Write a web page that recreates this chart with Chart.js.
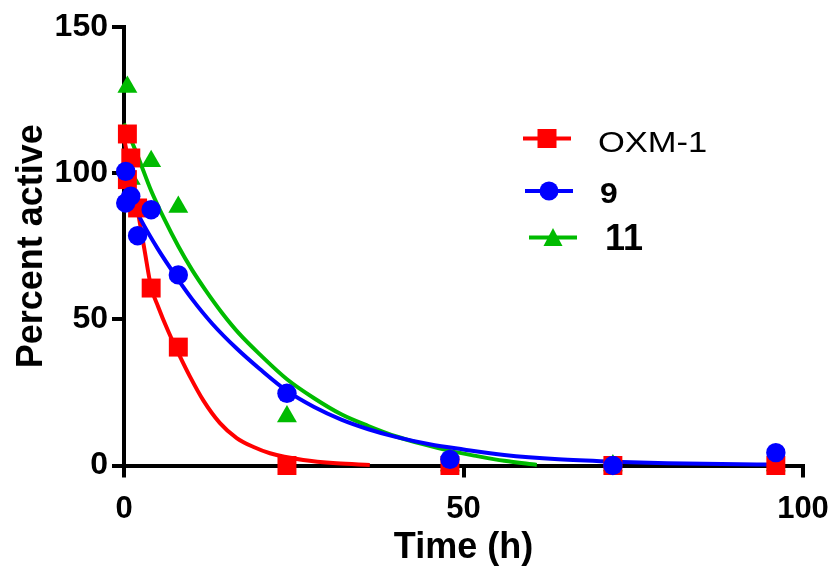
<!DOCTYPE html>
<html lang="en">
<head>
    <meta charset="UTF-8">
    <title>Percent active vs time</title>
    <script src="https://cdn.jsdelivr.net/npm/chart.js"></script>
    <style>
        body {
            margin: 0;
            background: #fff;
        }
        .chart-box {
            width: 836px;
            height: 571px;
        }
    </style>
</head>
<body>
    <div class="chart-box">
        <canvas id="decayChart"></canvas>
    </div>

    <script>
        const oxmTime = [0.5, 0.5, 1, 2, 4, 8, 24, 48, 72, 96];
        const oxmActive = [113.4, 97.8, 105.2, 88.1, 60.7, 40.5, 0, 0, 0, 0];

        const cpd9Time = [0.25, 0.25, 1, 2, 4, 8, 24, 48, 72, 96];
        const cpd9Active = [100.6, 89.8, 92.1, 78.6, 87.5, 65.2, 24.7, 2.1, 0, 4.4];

        const cpd11Time = [0.5, 1, 4, 8, 24, 48, 72, 96];
        const cpd11Active = [129.5, 98, 104.1, 88.4, 16.8, 0, 0, 0];

        // Fitted curves
        const oxmFitTime = [0, 1, 2, 3, 4, 5, 6.5, 8.2, 9.7, 11.7, 14.1, 16.6, 19, 21.5, 26.4, 31.3, 36.2];
        const oxmFitActive = [112, 100, 87.5, 74, 61, 54.5, 46, 37.5, 30.5, 22.2, 14.6, 9.4, 6.4, 4.2, 1.9, 0.75, 0.2];

        const cpd9FitTime = [0, 2.5, 5, 8, 10, 13, 16.6, 20, 24, 28, 32, 36, 40, 45, 50, 56, 64, 72, 80, 88, 96];
        const cpd9FitActive = [96, 84, 74, 63.5, 57, 48.5, 40, 33, 25.5, 20, 15.7, 12.4, 9.8, 7.3, 5.5, 3.6, 2.1, 1.3, 0.8, 0.5, 0.3];

        const cpd11FitTime = [0, 2, 4, 6, 8, 10, 12, 14.5, 17, 20, 24, 28, 32, 36, 40, 44, 48, 52, 56, 60.8];
        const cpd11FitActive = [117, 106, 94, 84, 75, 67, 60, 52, 45, 38, 29.5, 23, 17.5, 13.5, 10, 7.3, 5, 3.2, 1.6, 0.2];

        const seriesNames = ['OXM-1', '9', '11'];
        const xTicks = [0, 50, 100];
        const yTicks = [0, 50, 100, 150];

        const RED = '#ff0000';
        const BLUE = '#0000ff';
        const GREEN = '#00bb00';
        const FONT = "'Liberation Sans', Arial, sans-serif";

        function pairs(xs, ys) {
            return xs.map((x, i) => ({x: x, y: ys[i]}));
        }

        function markerSet(label, xs, ys, color, style, radius, order) {
            return {
                label: label,
                data: pairs(xs, ys),
                showLine: false,
                pointStyle: style,
                pointRadius: radius,
                pointHoverRadius: radius,
                pointBackgroundColor: color,
                pointBorderColor: color,
                pointBorderWidth: 0,
                backgroundColor: color,
                borderColor: color,
                clip: false,
                order: order
            };
        }

        function curveSet(xs, ys, color, order) {
            return {
                label: '',
                data: pairs(xs, ys),
                showLine: true,
                pointRadius: 0,
                borderColor: color,
                borderWidth: 4,
                cubicInterpolationMode: 'monotone',
                clip: false,
                order: order
            };
        }

        // Prism style legend: short line with the marker on it
        const lineLegend = {
            id: 'lineLegend',
            afterDraw(chart) {
                const ctx = chart.ctx;
                const rows = [
                    {name: seriesNames[0], color: RED, shape: 'square', y: 138.5, x1: 523, x2: 571, mx: 547, tx: 598, base: 151.5, font: '30px ' + FONT, sx: 1.15},
                    {name: seriesNames[1], color: BLUE, shape: 'circle', y: 191, x1: 525, x2: 573, mx: 549, tx: 600, base: 202.5, font: 'bold 29px ' + FONT, sx: 1.1},
                    {name: seriesNames[2], color: GREEN, shape: 'triangle', y: 237.5, x1: 529, x2: 577, mx: 553, tx: 605, base: 250, font: 'bold 36px ' + FONT, sx: 1.0}
                ];
                ctx.save();
                rows.forEach(r => {
                    ctx.strokeStyle = r.color;
                    ctx.fillStyle = r.color;
                    ctx.lineWidth = 4;
                    ctx.beginPath();
                    ctx.moveTo(r.x1, r.y);
                    ctx.lineTo(r.x2, r.y);
                    ctx.stroke();
                    ctx.beginPath();
                    if (r.shape === 'square') {
                        ctx.rect(r.mx - 9.5, r.y - 9.5, 19, 19);
                    } else if (r.shape === 'circle') {
                        ctx.arc(r.mx, r.y, 9.5, 0, Math.PI * 2);
                    } else {
                        ctx.moveTo(r.mx, r.y - 9.5);
                        ctx.lineTo(r.mx + 9.5, r.y + 8.5);
                        ctx.lineTo(r.mx - 9.5, r.y + 8.5);
                        ctx.closePath();
                    }
                    ctx.fill();
                    // text in the figure is a little wider than the font
                    ctx.fillStyle = '#000';
                    ctx.font = r.font;
                    ctx.textAlign = 'left';
                    ctx.textBaseline = 'alphabetic';
                    ctx.save();
                    ctx.translate(r.tx, r.base);
                    ctx.scale(r.sx, 1);
                    ctx.fillText(r.name, 0, 0);
                    ctx.restore();
                });
                ctx.restore();
            }
        };

        const ctx = document.getElementById('decayChart').getContext('2d');
        const decayChart = new Chart(ctx, {
            type: 'scatter',
            data: {
                datasets: [
                    markerSet(seriesNames[0], oxmTime, oxmActive, RED, 'rect', 13.4, 1),
                    markerSet(seriesNames[1], cpd9Time, cpd9Active, BLUE, 'circle', 9.7, 0),
                    markerSet(seriesNames[2], cpd11Time, cpd11Active, GREEN, 'triangle', 11.5, 2),
                    curveSet(oxmFitTime, oxmFitActive, RED, 4),
                    curveSet(cpd9FitTime, cpd9FitActive, BLUE, 3),
                    curveSet(cpd11FitTime, cpd11FitActive, GREEN, 5)
                ]
            },
            options: {
                responsive: true,
                maintainAspectRatio: false,
                animation: false,
                layout: {
                    padding: {left: 0, right: 33, top: 27, bottom: 0}
                },
                plugins: {
                    legend: {display: false},
                    tooltip: {enabled: false}
                },
                scales: {
                    x: {
                        type: 'linear',
                        min: 0,
                        max: 100,
                        afterBuildTicks(scale) {
                            scale.ticks = xTicks.map(v => ({value: v}));
                        },
                        afterFit(scale) {
                            scale.height = 105.5;
                            scale.paddingLeft = 0;
                            scale.paddingRight = 0;
                        },
                        ticks: {
                            color: '#000',
                            padding: 13,
                            maxRotation: 0,
                            font: {family: FONT, size: 31, weight: 'bold'}
                        },
                        grid: {
                            drawOnChartArea: false,
                            drawTicks: true,
                            tickLength: 12,
                            color: '#000',
                            lineWidth: 4
                        },
                        border: {display: true, color: '#000', width: 4},
                        title: {
                            display: true,
                            text: 'Time (h)',
                            color: '#000',
                            padding: {top: 0, bottom: 1},
                            font: {family: FONT, size: 36, weight: 'bold'}
                        }
                    },
                    y: {
                        type: 'linear',
                        min: 0,
                        max: 150,
                        afterBuildTicks(scale) {
                            scale.ticks = yTicks.map(v => ({value: v}));
                        },
                        afterFit(scale) {
                            scale.width = 124;
                            scale.paddingTop = 0;
                            scale.paddingBottom = 0;
                        },
                        ticks: {
                            color: '#000',
                            padding: 4,
                            font: {family: FONT, size: 32, weight: 'bold'}
                        },
                        grid: {
                            drawOnChartArea: false,
                            drawTicks: true,
                            tickLength: 12,
                            color: '#000',
                            lineWidth: 4
                        },
                        border: {display: true, color: '#000', width: 4},
                        title: {
                            display: true,
                            text: 'Percent active',
                            color: '#000',
                            padding: {top: 10, bottom: 0},
                            font: {family: FONT, size: 36, weight: 'bold'}
                        }
                    }
                }
            },
            plugins: [lineLegend]
        });
    </script>
</body>
</html>
